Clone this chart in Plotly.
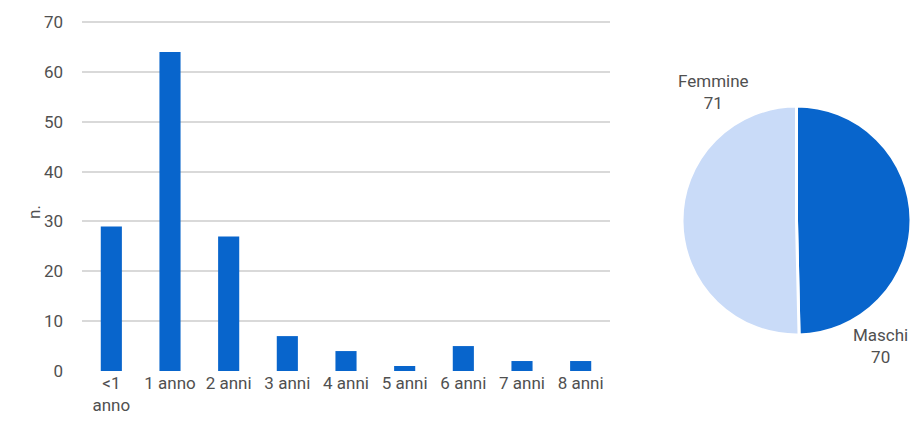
import plotly.graph_objects as go

categories = ["<1<br>anno", "1 anno", "2 anni", "3 anni", "4 anni", "5 anni", "6 anni", "7 anni", "8 anni"]
counts = [29, 64, 27, 7, 4, 1, 5, 2, 2]
y_ticks = [0, 10, 20, 30, 40, 50, 60, 70]
y_title = "n."

sex_labels = ["Maschi", "Femmine"]
sex_values = [70, 71]
sex_colors = ["#0865CC", "#C9DBF8"]

FONT = "Roboto, sans-serif"
TXT = "#505050"
FS = 17

OFF = 8  # page body margin
W, H = 920 - 2 * OFF, 430 - 2 * OFF
def px(x): return (x - OFF) / W
def py(y): return 1 - (y - OFF) / H

fig = go.Figure()
fig.add_trace(go.Bar(x=categories, y=counts, marker_color="#0865CC",
                     marker_line_width=0, showlegend=False,
                     xaxis="x", yaxis="y"))
fig.add_trace(go.Pie(labels=sex_labels, values=sex_values, sort=False,
                     direction="clockwise", rotation=0,
                     marker=dict(colors=sex_colors, line=dict(color="white", width=3)),
                     textinfo="none", hoverinfo="label+value", showlegend=False,
                     domain=dict(x=[px(682), px(911)], y=[py(336), py(105)])))

# pie labels
fig.add_annotation(x=px(713), y=py(92), xref="paper", yref="paper",
                   xanchor="center", yanchor="middle",
                   text=f"{sex_labels[1]}<br>{sex_values[1]}", showarrow=False,
                   font=dict(family=FONT, size=FS, color=TXT), align="center")
fig.add_annotation(x=px(909), y=py(346), xref="paper", yref="paper",
                   xanchor="right", yanchor="middle", borderpad=0,
                   text=f"{sex_labels[0]}<br>{sex_values[0]}", showarrow=False,
                   font=dict(family=FONT, size=FS, color=TXT), align="center")
# y-axis title
fig.add_annotation(x=px(34), y=py(212), xref="paper", yref="paper",
                   xanchor="center", yanchor="middle", textangle=-90,
                   text=y_title, showarrow=False,
                   font=dict(family=FONT, size=FS, color=TXT))

fig.update_layout(
    width=W, height=H,
    margin=dict(l=0, r=0, t=0, b=0, autoexpand=False),
    paper_bgcolor="white", plot_bgcolor="white",
    bargap=0.64,
    font=dict(family=FONT, size=FS, color=TXT),
    xaxis=dict(domain=[px(82), px(610)], showgrid=False, showline=False,
               ticks="", tickfont=dict(family=FONT, size=FS, color=TXT)),
    yaxis=dict(domain=[py(371), py(19.5)], range=[0, 70.5], tickvals=y_ticks,
               showgrid=True, gridcolor="#D9D9D9", gridwidth=1.5, zeroline=False,
               showline=False, ticks="", ticklabelstandoff=18,
               tickfont=dict(family=FONT, size=FS, color=TXT)),
)

fig.write_html("out.html")
